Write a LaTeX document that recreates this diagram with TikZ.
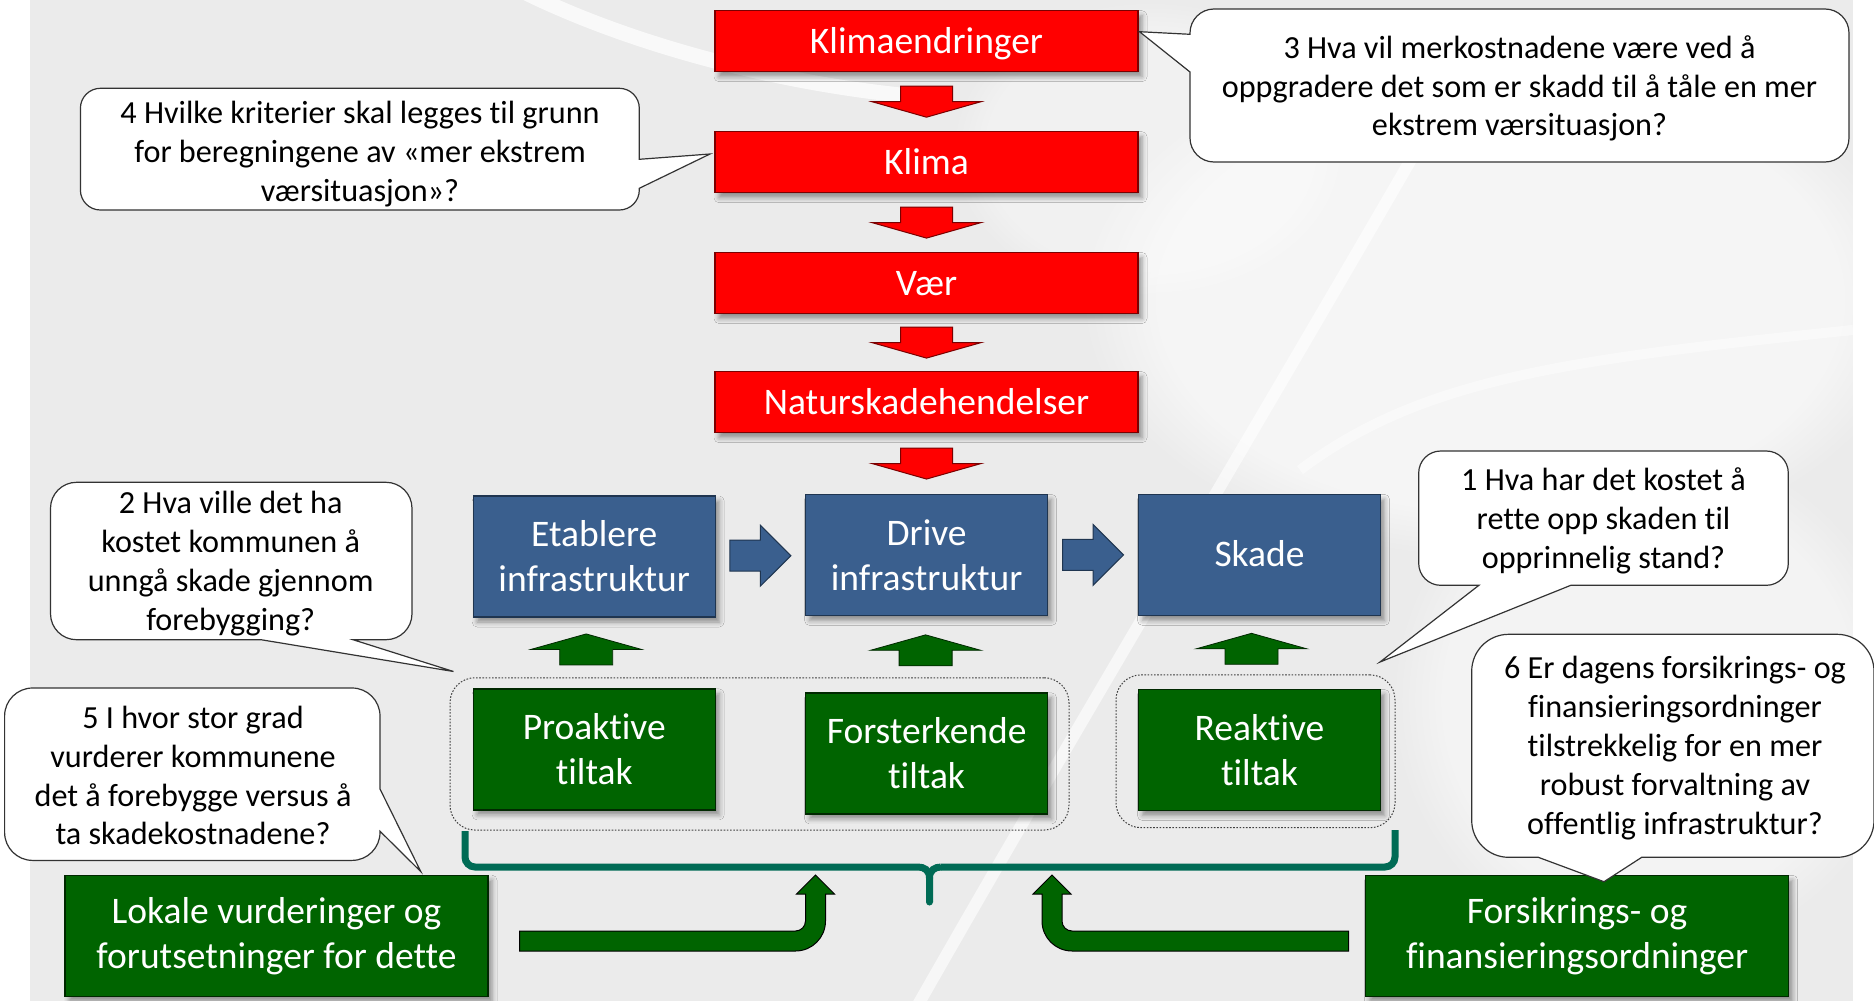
\documentclass[tikz,border=0pt]{standalone}
\usepackage{fontspec}
\setmainfont{Carlito}[Ligatures={NoCommon}]
\usetikzlibrary{calc,shadows.blur,fadings}
\definecolor{bggray}{HTML}{EBEBEB}
\definecolor{boxred}{HTML}{FF0000}
\definecolor{boxredline}{HTML}{7A0000}
\definecolor{boxblue}{HTML}{3A5F8E}
\definecolor{boxblueline}{HTML}{1F3550}
\definecolor{boxgreen}{HTML}{006400}
\definecolor{boxgreenline}{HTML}{002800}
\definecolor{braceteal}{HTML}{006B55}

% block arrow: #1 style, #2 centre, #3 rotation, #4 shaft length, #5 head length, #6 half shaft width, #7 half head width
\newcommand\blkarr[7]{%
  \begin{scope}[shift={#2},rotate=#3]
    \draw[#1] (-#4,-#6) -- (0,-#6) -- (0,-#7) -- (#5,0) -- (0,#7) -- (0,#6) -- (-#4,#6) -- cycle;
  \end{scope}}

% speech bubble: x1 y1 x2 y2 R, wedge on top/right/bottom/left
\newcommand\bubble[9]{%
  \pgfmathsetmacro\bxa{#1+#5}\pgfmathsetmacro\bxb{#3-#5}%
  \pgfmathsetmacro\bya{#2+#5}\pgfmathsetmacro\byb{#4-#5}%
  \pgfmathsetmacro\bxac{#1+0.4477*#5}\pgfmathsetmacro\bxbc{#3-0.4477*#5}%
  \pgfmathsetmacro\byac{#2+0.4477*#5}\pgfmathsetmacro\bybc{#4-0.4477*#5}%
  \draw[bub] (\bxa,#2) #6 -- (\bxb,#2) .. controls (\bxbc,#2) and (#3,\byac) .. (#3,\bya) #7
    -- (#3,\byb) .. controls (#3,\bybc) and (\bxbc,#4) .. (\bxb,#4) #8
    -- (\bxa,#4) .. controls (\bxac,#4) and (#1,\bybc) .. (#1,\byb) #9
    -- (#1,\bya) .. controls (#1,\byac) and (\bxac,#2) .. (\bxa,#2) -- cycle;}

\begin{document}
\begin{tikzpicture}[x=1pt,y=-1pt,
  box/.style={draw, line width=1.3pt, inner sep=0pt, align=center, text=white,
    font=\fontsize{37.5}{45}\selectfont,
    blur shadow={shadow xshift=4pt,shadow yshift=-5pt,shadow blur radius=5pt,shadow opacity=40}},
  oneline/.style={text height=30pt, text depth=6pt},
  redbox/.style={box, oneline, fill=boxred, draw=boxredline, minimum width=423pt, minimum height=61pt},
  bluebox/.style={box, fill=boxblue, draw=boxblueline, minimum width=242pt, minimum height=121pt},
  greenbox/.style={box, fill=boxgreen, draw=boxgreenline, minimum width=242pt, minimum height=121pt},
  bigbox/.style={box, fill=boxgreen, draw=boxgreenline, minimum width=423pt, minimum height=121pt},
  btext/.style={align=center, inner sep=0pt, font=\fontsize{32.2}{38.8}\selectfont},
  bub/.style={draw=black!80, line width=1.2pt, fill=white},
  cont/.style={draw=black!75, dash pattern=on 1.6pt off 1.6pt, line width=1pt, rounded corners=25pt, inner sep=0pt},
  redarr/.style={fill=boxred, draw=boxredline, line width=1pt},
  bluearr/.style={fill=boxblue, draw=boxblueline, line width=1pt},
  greenarr/.style={fill=boxgreen, draw=boxgreenline, line width=0.8pt},
  bentarr/.style={fill=boxgreen, draw=black, line width=1pt},
  bracestyle/.style={draw=braceteal, line width=7pt}
]
\useasboundingbox (0,0) rectangle (1874,1001);
% background
\fill[white] (0,0) rectangle (1874,1001);
\fill[bggray] (30,0) rectangle (1853,1001);
\begin{scope}
  \clip (30,0) rectangle (1853,1001);
  \fill[white, opacity=0.55, path fading=circle with fuzzy edge 20 percent] (1500,300) ellipse (420 and 260);
  \fill[white, opacity=0.4, path fading=circle with fuzzy edge 20 percent] (1650,700) ellipse (260 and 260);
  \fill[white, opacity=0.35, path fading=circle with fuzzy edge 20 percent] (1150,150) ellipse (200 and 150);
  \draw[white, opacity=0.75, line width=15pt, line cap=round] (520,-10) .. controls (620,40) and (760,80) .. (900,95);
  \draw[white, opacity=0.6, line width=12pt] (915,1010) .. controls (1080,720) and (1250,440) .. (1480,40);
  \draw[white, opacity=0.45, line width=10pt] (1300,470) .. controls (1420,380) and (1560,360) .. (1853,330);
\end{scope}

% dotted groups
\node[cont, minimum width=619pt, minimum height=152.3pt] (c1) at (759.5,753.9) {};
\node[cont, minimum width=279pt, minimum height=152.8pt] (c2) at (1255.5,751.3) {};

% brace
\draw[bracestyle] (465,831) -- (465,857) .. controls (465,862.5) and (469.5,867) .. (475,867)
  -- (918,867) .. controls (924,867) and (929.5,870) .. (929.5,878) -- (929.5,902);
\draw[bracestyle] (941,867) .. controls (935,867) and (929.5,870) .. (929.5,878);
\draw[bracestyle] (941,867) -- (1385,867) .. controls (1390.5,867) and (1395,862.5) .. (1395,857) -- (1395,830);
\fill[braceteal] (929.5,902) circle (3.5);

% boxes
\node[redbox] (k1) at (926.5,41.2) {Klimaendringer};
\node[redbox] (k2) at (926.5,162.2) {Klima};
\node[redbox] (k3) at (926.5,283) {Vær};
\node[redbox] (k4) at (926.5,402.2) {Naturskadehendelser};
\node[bluebox] (e) at (594.2,556.5) {Etablere\\infrastruktur};
\node[bluebox] (d) at (926.6,554.9) {Drive\\infrastruktur};
\node[bluebox, oneline] (s) at (1259.5,554.9) {Skade};
\node[greenbox] (p) at (594.2,749.4) {Proaktive\\tiltak};
\node[greenbox] (f) at (926.6,753.4) {Forsterkende\\tiltak};
\node[greenbox] (r) at (1259.5,750) {Reaktive\\tiltak};
\node[bigbox] (lok) at (276.5,935.7) {Lokale vurderinger og\\forutsetninger for dette};
\node[bigbox] (fors) at (1577.1,935.8) {Forsikrings- og\\finansieringsordninger};

% red arrows
\blkarr{redarr}{($(k1.south)!0.5!(k2.north)$)}{-90}{15.5}{15.5}{26}{54.5}
\blkarr{redarr}{($(k2.south)!0.5!(k3.north)$)}{-90}{15.5}{15.5}{26}{54.5}
\blkarr{redarr}{($(k3.south)!0.5!(k4.north)$)}{-90}{15.5}{15.5}{26}{54.5}
\blkarr{redarr}{($(k4.south)!0.5!(d.north)$)}{-90}{15.5}{15.5}{26}{54.5}
% blue arrows
\blkarr{bluearr}{($(e.east)!0.5!(d.west)$)}{0}{30.5}{30.5}{15.5}{30.4}
\blkarr{bluearr}{($(d.east)!0.5!(s.west)$)}{0}{30.5}{30.5}{15.5}{30.4}
% green up arrows
\blkarr{greenarr}{($(p.north)!0.55!(e.south)+(-8,0)$)}{90}{15.5}{15.5}{26.5}{55.3}
\blkarr{greenarr}{($(f.north)!0.55!(d.south)+(-1,0)$)}{90}{15.5}{15.5}{26.5}{55.3}
\blkarr{greenarr}{($(r.north)!0.55!(s.south)+(-8,0)$)}{90}{15.5}{15.5}{26.5}{55.3}

% bent arrows
\draw[bentarr] (519.5,931) -- (795.5,931) .. controls (801,931) and (805.5,926.5) .. (805.5,921)
  -- (805.5,894) -- (796.5,894) -- (815.5,875) -- (834.5,894) -- (825.5,894) -- (825.5,921)
  .. controls (825.5,937.6) and (812.1,951) .. (795.5,951) -- (519.5,951) -- cycle;
\draw[bentarr] (1348.5,931) -- (1072,931) .. controls (1066.5,931) and (1062,926.5) .. (1062,921)
  -- (1062,894) -- (1071,894) -- (1052,875) -- (1033,894) -- (1042,894) -- (1042,921)
  .. controls (1042,937.6) and (1055.4,951) .. (1072,951) -- (1348.5,951) -- cycle;

% bubbles
\bubble{80.4}{88.3}{639.3}{210}{20}{}{-- (639.3,159.3) -- (710,154) -- (639.3,188.3)}{}{}
\bubble{1190}{9}{1849}{162}{24}{}{}{}{-- (1190,72) -- (1139.5,31.7) -- (1190,34.3)}
\bubble{50.5}{482.3}{412}{639.7}{26}{}{}{-- (353,639.7) -- (453.5,671.5) -- (261,639.7)}{}
\bubble{1418.7}{451}{1788.3}{585.3}{22}{}{}{-- (1570.8,585.3) -- (1380,662) -- (1478.9,585.3)}{}
\bubble{4.6}{688}{380}{860.4}{28}{}{-- (380,789) -- (420.8,871.6) -- (380,831.2)}{}{}
\bubble{1471.7}{634.3}{1874}{857.3}{37}{}{}{-- (1641.7,857.3) -- (1604,881.7) -- (1538.3,857.3)}{}

\node[btext] (q4) at (360,154) {4 Hvilke kriterier skal legges til grunn\\for beregningene av «mer ekstrem\\værsituasjon»?};
\node[btext] (q3) at (1519.5,88.5) {3 Hva vil merkostnadene være ved å\\oppgradere det som er skadd til å tåle en mer\\ekstrem værsituasjon?};
\node[btext] (q2) at (230.7,563.5) {2 Hva ville det ha\\kostet kommunen å\\unngå skade gjennom\\forebygging?};
\node[btext] (q1) at (1603.5,521) {1 Hva har det kostet å\\rette opp skaden til\\opprinnelig stand?};
\node[btext] (q5) at (193,775.6) {5 I hvor stor grad\\vurderer kommunene\\det å forebygge versus å\\ta skadekostnadene?};
\node[btext] (q6) at (1675,748) {6 Er dagens forsikrings- og\\finansieringsordninger\\tilstrekkelig for en mer\\robust forvaltning av\\offentlig infrastruktur?};
\end{tikzpicture}
\end{document}
